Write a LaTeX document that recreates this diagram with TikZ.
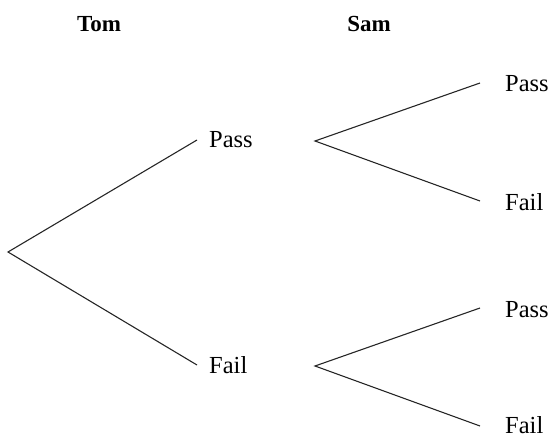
\documentclass[tikz,border=0pt]{standalone}
\usepackage{fontspec}
\setmainfont{Liberation Serif}
\begin{document}
\begin{tikzpicture}[x=1pt,y=1pt,
  lab/.style={inner sep=0pt,anchor=west,font=\fontsize{24.5}{28}\selectfont},
  head/.style={inner sep=0pt,font=\fontsize{23}{27}\selectfont\bfseries},
  br/.style={line width=1.1pt,draw=black!85}]
\useasboundingbox (0,0) rectangle (552,-438);
\node[head] (tom) at (99,-24) {Tom};
\node[head] (sam) at (369,-24) {Sam};
\coordinate (root) at (8,-252);
\node[lab] (p1) at (209,-140) {Pass};
\node[lab] (f1) at (209,-365) {Fail};
\coordinate (o1) at (315,-141);
\coordinate (o2) at (315,-366);
\node[lab] (pp) at (505,-84) {Pass};
\node[lab] (pf) at (505,-202) {Fail};
\node[lab] (fp) at (505,-310) {Pass};
\node[lab] (ff) at (505,-425) {Fail};
\draw[br] ([xshift=-12pt]p1.west) -- (root) -- ([xshift=-12pt]f1.west);
\draw[br] ([xshift=-25pt,yshift=1pt]pp.west) -- (o1) -- ([xshift=-25pt,yshift=1pt]pf.west);
\draw[br] ([xshift=-25pt,yshift=2pt]fp.west) -- (o2) -- ([xshift=-25pt,yshift=-1pt]ff.west);
\end{tikzpicture}
\end{document}
